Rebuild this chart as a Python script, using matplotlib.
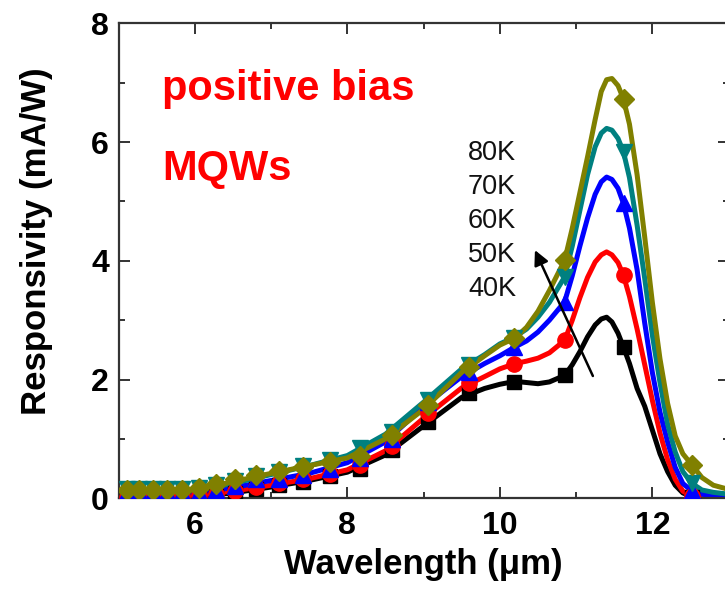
import matplotlib
matplotlib.use("Agg")
import matplotlib.pyplot as plt
from matplotlib.ticker import MultipleLocator

plt.rcParams['font.family'] = ['Liberation Sans', 'DejaVu Sans']

# ---- data ----
wl_line = [5.0, 5.5, 6.0, 6.5, 7.0, 7.5, 8.0, 8.5, 9.0, 9.5, 9.8, 10.0, 10.2, 10.35, 10.5,
           10.65, 10.85, 10.95, 11.05, 11.15, 11.25, 11.33, 11.40, 11.47, 11.55, 11.62,
           11.70, 11.80, 11.90, 12.00, 12.10, 12.20, 12.30, 12.40, 12.52, 12.65, 12.8, 13.0]
k40_line = [0.02, 0.02, 0.03, 0.09, 0.19, 0.30, 0.44, 0.73, 1.22, 1.70, 1.85, 1.92, 1.97, 1.95, 1.93,
            1.96, 2.07, 2.25, 2.47, 2.72, 2.92, 3.02, 3.05, 2.97, 2.78, 2.55,
            2.27, 1.85, 1.55, 1.15, 0.75, 0.45, 0.22, 0.09, 0.03, 0.01, 0.0, 0.0]
k50_line = [0.03, 0.03, 0.05, 0.12, 0.22, 0.33, 0.48, 0.80, 1.35, 1.86, 2.05, 2.18, 2.27, 2.31, 2.36,
            2.45, 2.66, 3.00, 3.38, 3.72, 3.98, 4.10, 4.15, 4.10, 3.97, 3.76,
            3.40, 2.85, 2.25, 1.65, 1.10, 0.65, 0.32, 0.12, 0.04, 0.02, 0.01, 0.0]
k60_line = [0.08, 0.08, 0.09, 0.18, 0.30, 0.42, 0.60, 0.95, 1.55, 2.05, 2.27, 2.40, 2.55, 2.65, 2.80,
            3.00, 3.31, 3.75, 4.25, 4.72, 5.12, 5.33, 5.41, 5.37, 5.22, 4.97,
            4.55, 3.85, 2.95, 2.12, 1.45, 0.95, 0.52, 0.25, 0.12, 0.07, 0.04, 0.03]
k70_line = [0.12, 0.12, 0.13, 0.25, 0.40, 0.55, 0.72, 1.08, 1.62, 2.18, 2.42, 2.60, 2.72, 2.85, 3.05,
            3.30, 3.73, 4.25, 4.85, 5.45, 5.92, 6.15, 6.23, 6.20, 6.06, 5.84,
            5.40, 4.60, 3.70, 2.75, 1.95, 1.25, 0.78, 0.45, 0.25, 0.14, 0.10, 0.07]
k80_line = [0.12, 0.12, 0.14, 0.28, 0.42, 0.55, 0.68, 1.00, 1.50, 2.12, 2.40, 2.58, 2.70, 2.88, 3.15,
            3.50, 4.01, 4.55, 5.15, 5.75, 6.38, 6.85, 7.05, 7.07, 6.95, 6.73,
            6.30, 5.45, 4.40, 3.30, 2.35, 1.60, 1.05, 0.75, 0.56, 0.35, 0.22, 0.15]

wl_mark = [5.11, 5.27, 5.45, 5.63, 5.83, 6.05, 6.28, 6.53, 6.80, 7.10, 7.42, 7.77, 8.16,
           8.58, 9.06, 9.59, 10.18, 10.86, 11.63, 12.52]
k40_mark = [0.02, 0.02, 0.02, 0.02, 0.02, 0.03, 0.04, 0.09, 0.16, 0.22, 0.28, 0.37, 0.50,
            0.81, 1.28, 1.77, 1.96, 2.08, 2.55, 0.03]
k50_mark = [0.03, 0.03, 0.03, 0.03, 0.04, 0.05, 0.07, 0.12, 0.19, 0.25, 0.32, 0.41, 0.56,
            0.88, 1.43, 1.94, 2.27, 2.66, 3.76, 0.04]
k60_mark = [0.10, 0.10, 0.10, 0.10, 0.10, 0.11, 0.14, 0.20, 0.33, 0.33, 0.40, 0.50, 0.68,
            1.00, 1.63, 2.13, 2.55, 3.31, 4.97, 0.12]
k70_mark = [0.16, 0.16, 0.16, 0.16, 0.16, 0.17, 0.22, 0.29, 0.37, 0.45, 0.55, 0.65, 0.85,
            1.12, 1.65, 2.25, 2.70, 3.73, 5.84, 0.25]
k80_mark = [0.14, 0.14, 0.14, 0.14, 0.14, 0.17, 0.24, 0.33, 0.40, 0.46, 0.53, 0.61, 0.72,
            1.07, 1.57, 2.21, 2.70, 4.01, 6.73, 0.56]

temp_labels = ["80K", "70K", "60K", "50K", "40K"]

series = [
    (k40_line, k40_mark, "black", "s", 10),
    (k50_line, k50_mark, "#ff0000", "o", 11),
    (k60_line, k60_mark, "#0000ff", "^", 11),
    (k70_line, k70_mark, "#008080", "v", 11),
    (k80_line, k80_mark, "#808000", "D", 10),
]

W, H = 725, 593
fig = plt.figure(figsize=(W / 100, H / 100), dpi=100)
ax = fig.add_axes([118.6 / W, 1 - 498.3 / H, 610.0 / W, 475.0 / H])

for line_v, mark_v, col, mk, ms in series:
    ax.plot(wl_line, line_v, color=col, lw=3.6, solid_joinstyle='round',
            solid_capstyle='round', zorder=2)
    ax.plot(wl_mark, mark_v, ls='none', marker=mk, color=col, ms=ms, mec=col, zorder=3)

ax.set_xlim(5, 13)
ax.set_ylim(0, 8)
ax.xaxis.set_major_locator(MultipleLocator(2))
ax.xaxis.set_minor_locator(MultipleLocator(1))
ax.yaxis.set_major_locator(MultipleLocator(2))
ax.yaxis.set_minor_locator(MultipleLocator(1))
ax.tick_params(which='both', direction='in', top=True, right=True, width=1.4, color='#333333')
ax.tick_params(which='major', length=8)
ax.tick_params(which='minor', length=4.5)
ax.tick_params(axis='x', which='major', labelsize=23, pad=9)
ax.tick_params(axis='y', which='major', labelsize=23, pad=7)
for lab in ax.get_xticklabels() + ax.get_yticklabels():
    lab.set_fontweight('bold')
for sp in ax.spines.values():
    sp.set_linewidth(1.6)
    sp.set_color('#333333')

ax.set_xlabel("Wavelength (\u03bcm)", fontsize=25, fontweight='bold', labelpad=5)
fig.text(37 / W, 1 - 241 / H, "Responsivity (mA/W)", rotation=90, fontsize=25,
         fontweight='bold', ha='center', va='center')

fig.text(162 / W, 1 - 100 / H, "positive bias", color='#ff0000', fontsize=30,
         fontweight='bold', ha='left', va='baseline')
fig.text(162 / W, 1 - 180 / H, "MQWs", color='#ff0000', fontsize=30,
         fontweight='bold', ha='left', va='baseline')

for i, t in enumerate(temp_labels):
    fig.text(468 / W, 1 - (153 + 34 * i) / H, t, fontsize=19.5, color='#111111',
             ha='left', va='center')

ax.annotate("", xy=(10.46, 4.18), xytext=(11.22, 2.06),
            arrowprops=dict(arrowstyle='-|>', color='black', lw=1.8,
                            mutation_scale=22, shrinkA=0, shrinkB=0), zorder=5)

fig.savefig("out.png", dpi=100)
